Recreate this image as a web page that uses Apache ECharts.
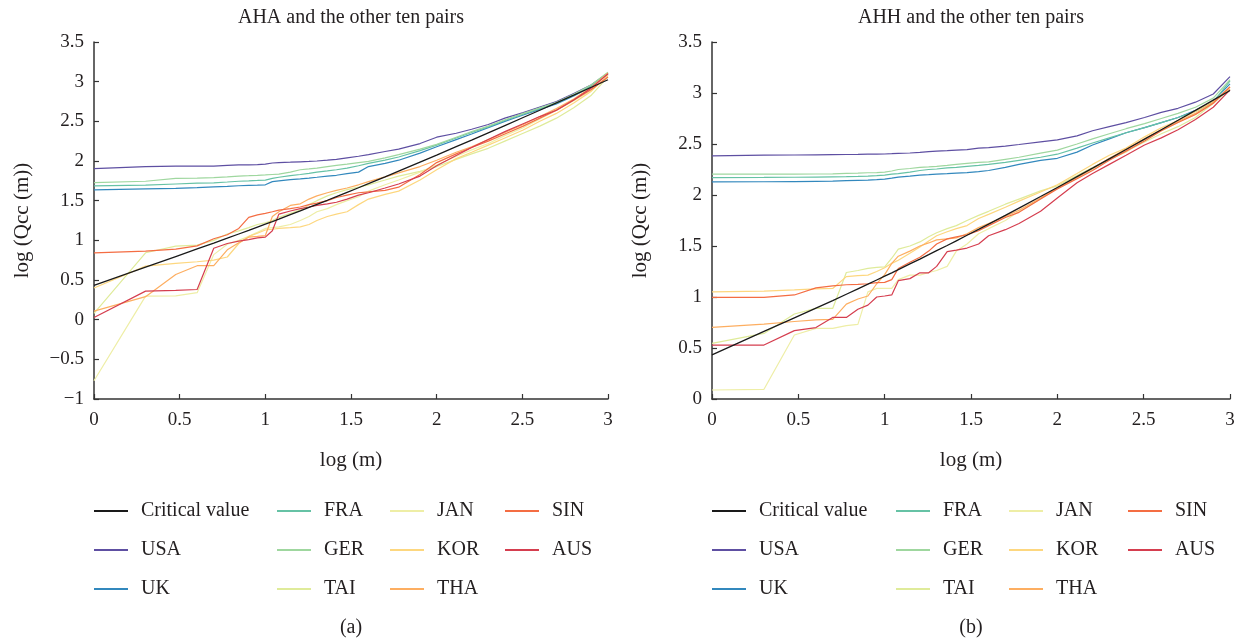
<!DOCTYPE html>
<html>
<head>
<meta charset="utf-8">
<title>AHA / AHH</title>
<script src="https://cdn.jsdelivr.net/npm/echarts@6/dist/echarts.min.js"></script>
<style>
  html, body { margin: 0; padding: 0; background: #fff; }
  #main { width: 1245px; height: 642px; }
</style>
</head>
<body>
<div id="main"></div>
<script>
// x positions shared by every series: log (m)
const logM = [0, 0.301, 0.477, 0.602, 0.699, 0.778, 0.845, 0.903, 0.954, 1,
  1.041, 1.079, 1.146, 1.204, 1.255, 1.301, 1.362, 1.415, 1.477, 1.544,
  1.602, 1.699, 1.778, 1.903, 2, 2.114, 2.204, 2.301, 2.398, 2.505,
  2.602, 2.699, 2.8, 2.903, 3];

const names = ["Critical value", "USA", "UK", "FRA", "GER", "TAI", "JAN", "KOR", "THA", "SIN", "AUS"];
const colors = ["#1a1a1a", "#5e4fa2", "#3288bd", "#66c2a5", "#9fd79f", "#dfeb9a",
  "#eeeea6", "#fdd77f", "#fdae61", "#f46d43", "#d53e4f"];

// critical value, same in both panels
const critical = [0.432, 0.663, 0.796, 0.891, 0.965, 1.027, 1.080, 1.126, 1.167, 1.204,
  1.237, 1.268, 1.324, 1.372, 1.415, 1.454, 1.505, 1.551, 1.605, 1.663,
  1.714, 1.800, 1.872, 1.985, 2.074, 2.180, 2.263, 2.354, 2.446, 2.548,
  2.640, 2.733, 2.830, 2.930, 3.024];

// (a) AHA and the other ten pairs
const ahaUSA = [1.905, 1.93, 1.935, 1.935, 1.935, 1.945, 1.95, 1.95, 1.955, 1.96,
  1.975, 1.98, 1.985, 1.99, 1.995, 2.0, 2.01, 2.02, 2.04, 2.06,
  2.08, 2.12, 2.15, 2.22, 2.30, 2.35, 2.40, 2.46, 2.54, 2.61,
  2.68, 2.75, 2.85, 2.96, 3.11];
const ahaUK = [1.636, 1.649, 1.655, 1.665, 1.674, 1.68, 1.688, 1.692, 1.695, 1.70,
  1.74, 1.75, 1.765, 1.775, 1.785, 1.795, 1.81, 1.82, 1.84, 1.86,
  1.93, 1.97, 2.01, 2.10, 2.18, 2.27, 2.34, 2.42, 2.50, 2.58,
  2.65, 2.72, 2.82, 2.94, 3.10];
const ahaFRA = [1.686, 1.695, 1.71, 1.72, 1.725, 1.735, 1.745, 1.75, 1.755, 1.76,
  1.78, 1.795, 1.815, 1.83, 1.845, 1.86, 1.875, 1.89, 1.91, 1.94,
  1.97, 2.01, 2.05, 2.13, 2.20, 2.29, 2.36, 2.43, 2.51, 2.59,
  2.66, 2.73, 2.83, 2.95, 3.11];
const ahaGER = [1.728, 1.745, 1.78, 1.785, 1.79, 1.80, 1.81, 1.815, 1.82, 1.825,
  1.83, 1.835, 1.86, 1.89, 1.90, 1.91, 1.93, 1.945, 1.96, 1.98,
  1.995, 2.04, 2.08, 2.15, 2.21, 2.30, 2.37, 2.44, 2.52, 2.60,
  2.67, 2.74, 2.84, 2.96, 3.12];
const ahaTAI = [0.078, 0.843, 0.927, 0.94, 1.0, 1.08, 1.12, 1.16, 1.2, 1.22,
  1.25, 1.29, 1.34, 1.38, 1.45, 1.50, 1.56, 1.60, 1.64, 1.67,
  1.70, 1.76, 1.81, 1.87, 1.93, 2.02, 2.09, 2.16, 2.25, 2.35,
  2.44, 2.54, 2.67, 2.83, 3.06];
const ahaJAN = [-0.77, 0.297, 0.30, 0.34, 0.82, 0.95, 1.0, 1.05, 1.1, 1.15,
  1.16, 1.17, 1.2, 1.25, 1.3, 1.36, 1.40, 1.45, 1.50, 1.55,
  1.62, 1.70, 1.76, 1.86, 1.95, 2.06, 2.14, 2.22, 2.32, 2.42,
  2.53, 2.64, 2.76, 2.89, 3.08];
const ahaKOR = [0.40, 0.675, 0.71, 0.73, 0.75, 0.79, 0.96, 1.05, 1.09, 1.13,
  1.14, 1.15, 1.16, 1.17, 1.20, 1.25, 1.30, 1.33, 1.36, 1.45,
  1.52, 1.58, 1.62, 1.76, 1.89, 2.03, 2.11, 2.20, 2.29, 2.39,
  2.50, 2.60, 2.73, 2.88, 3.08];
const ahaTHA = [0.108, 0.29, 0.57, 0.68, 0.68, 0.88, 0.97, 1.04, 1.05, 1.06,
  1.30, 1.36, 1.44, 1.46, 1.52, 1.56, 1.60, 1.63, 1.66, 1.70,
  1.74, 1.80, 1.85, 1.93, 2.01, 2.11, 2.18, 2.27, 2.36, 2.46,
  2.56, 2.66, 2.78, 2.93, 3.11];
const ahaSIN = [0.843, 0.863, 0.89, 0.93, 1.02, 1.07, 1.15, 1.29, 1.32, 1.34,
  1.36, 1.38, 1.40, 1.42, 1.45, 1.47, 1.50, 1.54, 1.57, 1.60,
  1.61, 1.63, 1.67, 1.83, 1.98, 2.09, 2.17, 2.25, 2.34, 2.44,
  2.54, 2.64, 2.77, 2.90, 3.06];
const ahaAUS = [0.028, 0.36, 0.37, 0.38, 0.90, 0.96, 0.99, 1.01, 1.03, 1.04,
  1.12, 1.33, 1.37, 1.40, 1.42, 1.44, 1.46, 1.48, 1.52, 1.57,
  1.60, 1.66, 1.71, 1.81, 1.94, 2.07, 2.17, 2.27, 2.37, 2.47,
  2.56, 2.64, 2.77, 2.92, 3.10];

// (b) AHH and the other ten pairs
const ahhUSA = [2.383, 2.39, 2.392, 2.394, 2.396, 2.397, 2.398, 2.40, 2.40, 2.402,
  2.405, 2.408, 2.412, 2.418, 2.425, 2.43, 2.435, 2.44, 2.445, 2.46,
  2.465, 2.48, 2.495, 2.52, 2.54, 2.58, 2.63, 2.67, 2.71, 2.76,
  2.81, 2.85, 2.91, 2.99, 3.16];
const ahhUK = [2.129, 2.13, 2.132, 2.134, 2.136, 2.14, 2.143, 2.145, 2.15, 2.155,
  2.165, 2.175, 2.185, 2.195, 2.20, 2.205, 2.21, 2.215, 2.22, 2.23,
  2.24, 2.27, 2.30, 2.34, 2.36, 2.42, 2.49, 2.55, 2.61, 2.66,
  2.71, 2.76, 2.83, 2.92, 3.09];
const ahhFRA = [2.17, 2.172, 2.174, 2.176, 2.178, 2.18, 2.183, 2.186, 2.19, 2.195,
  2.205, 2.21, 2.225, 2.24, 2.25, 2.255, 2.265, 2.27, 2.28, 2.29,
  2.30, 2.32, 2.34, 2.37, 2.40, 2.46, 2.51, 2.56, 2.61, 2.66,
  2.71, 2.76, 2.82, 2.91, 3.12];
const ahhGER = [2.204, 2.204, 2.205, 2.206, 2.208, 2.212, 2.215, 2.218, 2.22, 2.225,
  2.235, 2.25, 2.26, 2.27, 2.275, 2.28, 2.29, 2.30, 2.31, 2.32,
  2.325, 2.35, 2.37, 2.41, 2.44, 2.50, 2.55, 2.60, 2.65, 2.70,
  2.75, 2.80, 2.86, 2.95, 3.13];
const ahhTAI = [0.545, 0.643, 0.833, 0.888, 0.888, 1.24, 1.26, 1.28, 1.29, 1.296,
  1.38, 1.47, 1.50, 1.54, 1.59, 1.63, 1.67, 1.70, 1.75, 1.80,
  1.84, 1.91, 1.96, 2.04, 2.09, 2.19, 2.27, 2.35, 2.43, 2.52,
  2.60, 2.67, 2.76, 2.90, 3.04];
const ahhJAN = [0.088, 0.095, 0.627, 0.692, 0.692, 0.72, 0.731, 1.05, 1.084, 1.084,
  1.084, 1.17, 1.215, 1.215, 1.24, 1.26, 1.30, 1.45, 1.52, 1.62,
  1.67, 1.75, 1.84, 1.96, 2.07, 2.17, 2.25, 2.35, 2.42, 2.54,
  2.63, 2.71, 2.79, 2.90, 3.06];
const ahhKOR = [1.051, 1.058, 1.07, 1.08, 1.084, 1.20, 1.21, 1.215, 1.25, 1.286,
  1.33, 1.36, 1.43, 1.49, 1.55, 1.60, 1.64, 1.67, 1.70, 1.77,
  1.81, 1.88, 1.94, 2.03, 2.10, 2.21, 2.30, 2.39, 2.46, 2.57,
  2.66, 2.73, 2.82, 2.92, 3.04];
const ahhTHA = [0.702, 0.735, 0.76, 0.775, 0.78, 0.93, 0.98, 1.01, 1.13, 1.22,
  1.33, 1.40, 1.45, 1.50, 1.53, 1.56, 1.57, 1.58, 1.62, 1.68,
  1.72, 1.79, 1.85, 1.97, 2.07, 2.17, 2.26, 2.36, 2.45, 2.55,
  2.64, 2.72, 2.80, 2.91, 3.06];
const ahhSIN = [0.996, 0.996, 1.02, 1.09, 1.11, 1.12, 1.124, 1.13, 1.14, 1.143,
  1.17, 1.28, 1.34, 1.39, 1.45, 1.52, 1.57, 1.59, 1.61, 1.65,
  1.70, 1.78, 1.83, 1.96, 2.06, 2.16, 2.24, 2.34, 2.43, 2.53,
  2.63, 2.71, 2.79, 2.90, 3.06];
const ahhAUS = [0.529, 0.529, 0.67, 0.70, 0.80, 0.80, 0.88, 0.92, 1.0, 1.01,
  1.02, 1.16, 1.18, 1.237, 1.237, 1.30, 1.445, 1.459, 1.48, 1.52,
  1.60, 1.66, 1.72, 1.84, 1.97, 2.12, 2.21, 2.30, 2.39, 2.49,
  2.56, 2.64, 2.74, 2.86, 3.03];

const ahaSets = [critical, ahaUSA, ahaUK, ahaFRA, ahaGER, ahaTAI, ahaJAN, ahaKOR, ahaTHA, ahaSIN, ahaAUS];
const ahhSets = [critical, ahhUSA, ahhUK, ahhFRA, ahhGER, ahhTAI, ahhJAN, ahhKOR, ahhTHA, ahhSIN, ahhAUS];

const FONT = "'Liberation Serif', 'DejaVu Serif', serif";
const TXT = "#231f20";

function pairs(xs, ys) {
  return ys.map((y, i) => [xs[i], y]);
}

function minus(v) {
  return v < 0 ? "\u2212" + Math.abs(v) : String(v);
}

function makeSeries(sets, idx) {
  // critical line drawn last so it stays visible
  const order = [1, 2, 3, 4, 5, 6, 7, 8, 9, 10, 0];
  return order.map((k) => ({
    name: names[k],
    type: "line",
    xAxisIndex: idx,
    yAxisIndex: idx,
    showSymbol: false,
    symbol: "none",
    animation: false,
    data: pairs(logM, sets[k]),
    itemStyle: { color: colors[k] },
    lineStyle: { color: colors[k], width: k === 0 ? 1.3 : 1.2 },
  }));
}

function makeAxes(yMin) {
  const common = {
    axisLine: { show: true, onZero: false, lineStyle: { color: "#333", width: 1.5 } },
    axisTick: { show: true, inside: true, length: 5, lineStyle: { color: "#333", width: 1.2 } },
    splitLine: { show: false },
    axisLabel: { color: TXT, fontFamily: FONT, fontSize: 19, formatter: minus },
    nameTextStyle: { color: TXT, fontFamily: FONT, fontSize: 21 },
  };
  return {
    x: Object.assign({}, common, {
      type: "value", min: 0, max: 3, interval: 0.5,
      name: "log (m)", nameLocation: "middle", nameGap: 51,
      axisLabel: Object.assign({}, common.axisLabel, { margin: 12 }),
    }),
    y: Object.assign({}, common, {
      type: "value", min: yMin, max: 3.5, interval: 0.5,
      name: "log (Qcc (m))", nameLocation: "middle", nameGap: 61,
      axisLabel: Object.assign({}, common.axisLabel, { margin: 10 }),
    }),
  };
}

// legend: 4 columns x 3 rows, filled column by column
function makeLegends(cols, top) {
  const groups = [names.slice(0, 3), names.slice(3, 6), names.slice(6, 9), names.slice(9, 11)];
  return groups.map((g, i) => ({
    orient: "vertical",
    left: cols[i],
    top: top,
    padding: 0,
    data: g,
    icon: "rect",
    itemWidth: 34,
    itemHeight: 2,
    itemGap: 19,
    selectedMode: false,
    textStyle: { color: TXT, fontFamily: FONT, fontSize: 20, padding: [0, 0, 0, 8] },
  }));
}

const chart = echarts.init(document.getElementById("main"));
const ax1 = makeAxes(-1);
const ax2 = makeAxes(0);

const option = {
  backgroundColor: "#fff",
  animation: false,
  grid: [
    { left: 94, top: 42, width: 514, height: 357 },
    { left: 712, top: 42, width: 518, height: 357 },
  ],
  xAxis: [Object.assign({ gridIndex: 0 }, ax1.x), Object.assign({ gridIndex: 1 }, ax2.x)],
  yAxis: [Object.assign({ gridIndex: 0 }, ax1.y), Object.assign({ gridIndex: 1 }, ax2.y)],
  legend: makeLegends([94, 277, 390, 505], 501).concat(makeLegends([712, 896, 1009, 1128], 501)),
  series: makeSeries(ahaSets, 0).concat(makeSeries(ahhSets, 1)),
  graphic: [
    { type: "text", x: 351, y: 18, style: { text: "AHA and the other ten pairs", fill: TXT, font: "20px " + FONT, textAlign: "center", textVerticalAlign: "middle" } },
    { type: "text", x: 971, y: 18, style: { text: "AHH and the other ten pairs", fill: TXT, font: "20px " + FONT, textAlign: "center", textVerticalAlign: "middle" } },
    { type: "text", x: 351, y: 628, style: { text: "(a)", fill: TXT, font: "20px " + FONT, textAlign: "center", textVerticalAlign: "middle" } },
    { type: "text", x: 971, y: 628, style: { text: "(b)", fill: TXT, font: "20px " + FONT, textAlign: "center", textVerticalAlign: "middle" } },
  ],
};

chart.setOption(option);
</script>
</body>
</html>
